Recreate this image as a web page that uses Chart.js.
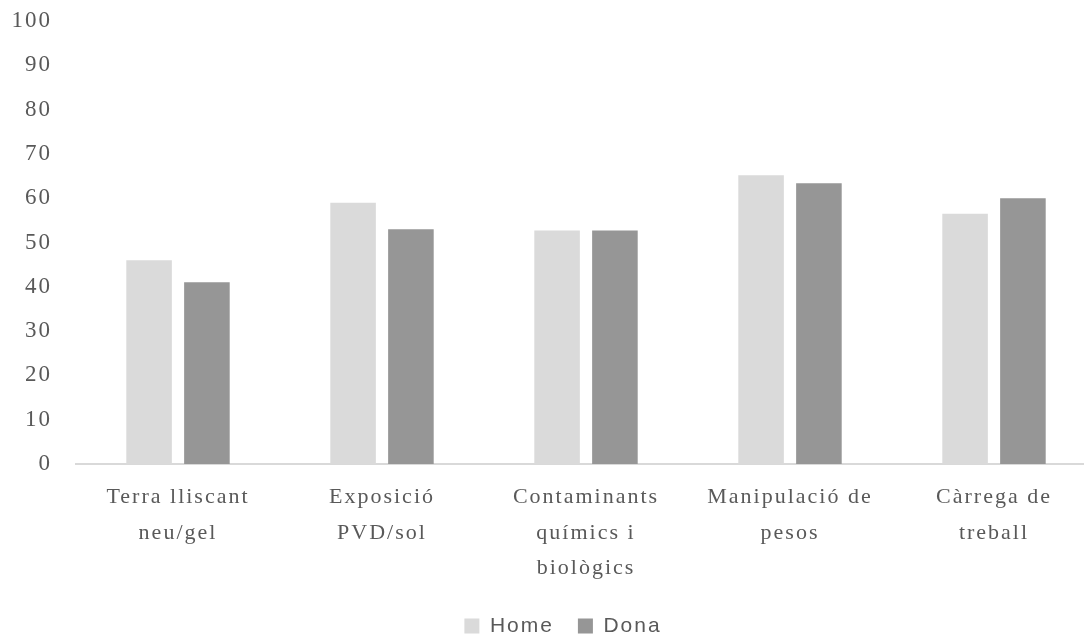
<!DOCTYPE html>
<html>
<head>
<meta charset="utf-8">
<script src="https://cdn.jsdelivr.net/npm/chart.js@4.4.1/dist/chart.umd.min.js"></script>
<style>
  html, body { margin: 0; padding: 0; background: #ffffff; overflow: hidden; width: 1084px; height: 638px; }
  #wrap { position: absolute; left: 0; top: 0; width: 1100px; height: 638px; }
</style>
</head>
<body>
<div id="wrap"><canvas id="c"></canvas></div>
<script>
const categories = [
  ['Terra lliscant', 'neu/gel'],
  ['Exposició', 'PVD/sol'],
  ['Contaminants', 'químics i', 'biològics'],
  ['Manipulació de', 'pesos'],
  ['Càrrega de', 'treball']
];
const homeValues = [46, 59, 52.7, 65.2, 56.5];
const donaValues = [41, 53, 52.7, 63.4, 60];
const seriesNames = ['Home', 'Dona'];
const yMin = 0, yMax = 100, yStep = 10;

const spacingPlugin = {
  id: 'spacing',
  beforeUpdate(chart) { chart.ctx.letterSpacing = '2px'; },
  afterLayout(chart) { chart.scales.y.left = 0; },
  beforeDraw(chart) { chart.ctx.letterSpacing = '2px'; }
};

new Chart(document.getElementById('c'), {
  type: 'bar',
  data: {
    labels: categories,
    datasets: [
      { label: seriesNames[0], data: homeValues, backgroundColor: '#dadada', borderWidth: 0 },
      { label: seriesNames[1], data: donaValues, backgroundColor: '#969696', borderWidth: 0 }
    ]
  },
  options: {
    responsive: true,
    maintainAspectRatio: false,
    animation: false,
    layout: { padding: { left: 30, right: 4, top: 0, bottom: -8.5 } },
    datasets: { bar: { categoryPercentage: 0.567, barPercentage: 0.788 } },
    plugins: {
      tooltip: { enabled: false },
      legend: {
        position: 'bottom',
        labels: {
          boxWidth: 15, boxHeight: 15, padding: 24,
          color: '#595959',
          font: { family: 'Liberation Sans', size: 21 }
        }
      }
    },
    scales: {
      x: {
        grid: { display: false, drawTicks: false },
        border: { display: true, color: '#d9d9d9', width: 2 },
        afterFit(scale) { scale.height = 127.5; },
        ticks: {
          color: '#595959',
          padding: 16,
          maxRotation: 0,
          autoSkip: false,
          font: { family: 'Liberation Serif', size: 22, lineHeight: 1.61 }
        }
      },
      y: {
        min: yMin, max: yMax,
        grid: { display: false, drawTicks: false },
        border: { display: false },
        afterFit(scale) { scale.width = 46; scale.paddingTop = 21; scale.paddingBottom = 0; },
        ticks: {
          stepSize: yStep,
          color: '#595959',
          padding: 24,
          font: { family: 'Liberation Serif', size: 23 }
        }
      }
    }
  },
  plugins: [spacingPlugin]
});
</script>
</body>
</html>
